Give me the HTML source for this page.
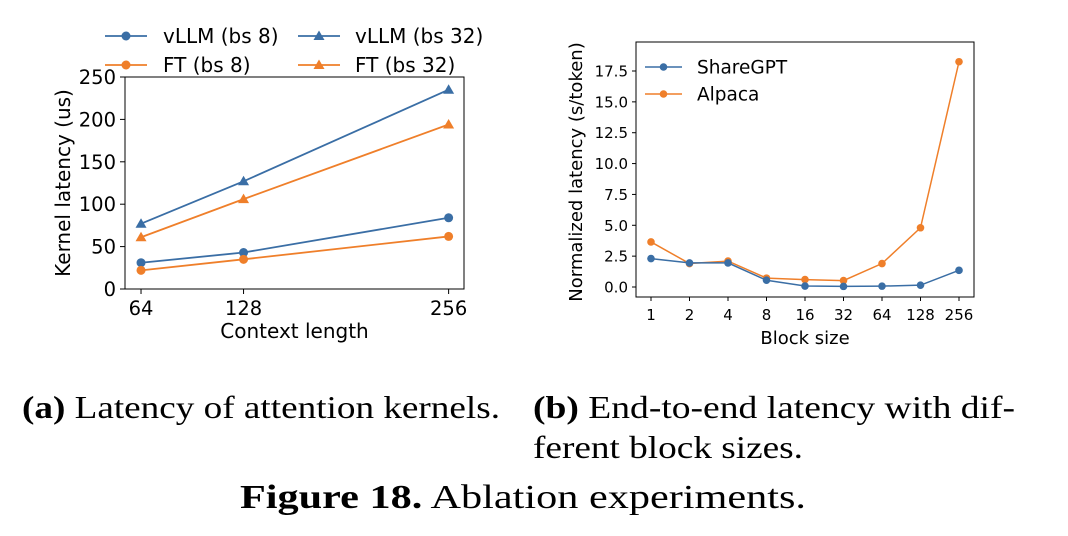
<!DOCTYPE html>
<html><head><meta charset="utf-8"><style>
html,body{margin:0;padding:0;background:#fff;}
svg{display:block;}
.s{font-family:"DejaVu Sans","Liberation Sans",sans-serif;fill:#000;}
.c{font-family:"Liberation Serif",serif;fill:#000;}
</style></head><body>
<svg id="fig" width="1068" height="536" viewBox="0 0 1068 536" xmlns="http://www.w3.org/2000/svg">
<g id="chartA"></g>
<g id="chartB"></g>
<g>
<text class="c" x="22" y="418" font-size="32" textLength="478" lengthAdjust="spacingAndGlyphs"><tspan font-weight="bold">(a)</tspan> Latency of attention kernels.</text>
<text class="c" x="533" y="418" font-size="32" textLength="482" lengthAdjust="spacingAndGlyphs"><tspan font-weight="bold">(b)</tspan> End-to-end latency with dif-</text>
<text class="c" x="533" y="458" font-size="32" textLength="270" lengthAdjust="spacingAndGlyphs">ferent block sizes.</text>
<text class="c" x="240" y="508" font-size="34" textLength="566" lengthAdjust="spacingAndGlyphs"><tspan font-weight="bold">Figure 18.</tspan> Ablation experiments.</text>
</g>
</svg>
<script>
const ctxLengths = [64, 128, 256];
const vllmBs8 = [31, 43, 84];
const ftBs8 = [22, 35, 62];
const vllmBs32 = [77, 127, 235];
const ftBs32 = [61, 106, 194];
const yTicksA = [0, 50, 100, 150, 200, 250];

const blockSizes = ["1","2","4","8","16","32","64","128","256"];
const shareGPT = [2.3, 1.95, 1.95, 0.55, 0.08, 0.05, 0.07, 0.15, 1.35];
const alpaca = [3.65, 1.9, 2.1, 0.72, 0.6, 0.52, 1.9, 4.8, 18.25];
const yTicksB = ["0.0","2.5","5.0","7.5","10.0","12.5","15.0","17.5"];

const BLUE = "#3a6ea5", ORANGE = "#ef7f2a";
const NS = "http://www.w3.org/2000/svg";
function mk(parent, tag, attrs, text) {
  const e = document.createElementNS(NS, tag);
  for (const k in attrs) e.setAttribute(k, attrs[k]);
  if (text !== undefined) e.textContent = text;
  parent.appendChild(e);
  return e;
}
function marker(g, type, x, y, color) {
  if (type === "o") return mk(g, "circle", {cx:x, cy:y, r:4.5, fill:color});
  return mk(g, "polygon", {points:`${x},${y-5.5} ${x+5.5},${y+4} ${x-5.5},${y+4}`, fill:color});
}

// ---- Chart A ----
(function(){
  const g = document.getElementById("chartA");
  const L=125, R=464, T=77, B=289;
  const xA = v => L + (v - 54) / (265.6 - 54) * (R - L);
  const yA = v => B - v / 250 * (B - T);
  let f = mk(g, "rect", {x:L, y:T, width:R-L, height:B-T, fill:"none", stroke:"#000", "stroke-width":1});
  
  
  yTicksA.forEach(t => {
    mk(g, "line", {x1:L-5, x2:L, y1:yA(t), y2:yA(t), stroke:"#000"});
    const tx = mk(g, "text", {x:L-9, y:yA(t)+7, "font-size":19.5, "text-anchor":"end", class:"s"}, t);
    
    
  });
  ctxLengths.forEach(t => {
    mk(g, "line", {x1:xA(t), x2:xA(t), y1:B, y2:B+5, stroke:"#000"});
    const tx = mk(g, "text", {x:xA(t), y:B+26, "font-size":19.5, "text-anchor":"middle", class:"s"}, t);
    
    
  });
  let xt = mk(g, "text", {x:(L+R)/2, y:338, "font-size":20, "text-anchor":"middle", class:"s"}, "Context length");
  
  
  let yt = mk(g, "text", {x:0, y:0, "font-size":20, "text-anchor":"middle", class:"s", transform:`translate(70,183) rotate(-90)`}, "Kernel latency (us)");
  
  
  const series = [[vllmBs32,BLUE,"^","vllm-bs32"],[ftBs32,ORANGE,"^","ft-bs32"],[vllmBs8,BLUE,"o","vllm-bs8"],[ftBs8,ORANGE,"o","ft-bs8"]];
  series.forEach(([d,c,m,n]) => {
    const sg = mk(g, "g", {});
    
    
    mk(sg, "polyline", {points:d.map((v,i)=>`${xA(ctxLengths[i])},${yA(v)}`).join(" "), fill:"none", stroke:c, "stroke-width":1.8});
    d.forEach((v,i)=>marker(sg, m, xA(ctxLengths[i]), yA(v), c));
  });
  const leg = [["vLLM (bs 8)",BLUE,"o",105,36,163],["vLLM (bs 32)",BLUE,"^",298,36,355],["FT (bs 8)",ORANGE,"o",105,65,163],["FT (bs 32)",ORANGE,"^",298,65,355]];
  leg.forEach(([lab,c,m,x,y,tx]) => {
    const lg = mk(g, "g", {});
    
    
    mk(lg, "line", {x1:x, x2:x+42, y1:y, y2:y, stroke:c, "stroke-width":1.8});
    marker(lg, m, x+21, y, c);
    mk(lg, "text", {x:tx, y:y+7, "font-size":20, class:"s"}, lab);
  });
})();

// ---- Chart B ----
(function(){
  const g = document.getElementById("chartB");
  const L=636, R=974, T=42, B=297;
  const xB = i => 651 + i * (959 - 651) / (blockSizes.length - 1);
  const yB = v => 287 - v * (216 / 17.5);
  let f = mk(g, "rect", {x:L, y:T, width:R-L, height:B-T, fill:"none", stroke:"#000", "stroke-width":1});
  
  
  yTicksB.forEach(t => {
    const y = yB(parseFloat(t));
    mk(g, "line", {x1:L-4, x2:L, y1:y, y2:y, stroke:"#000"});
    const tx = mk(g, "text", {x:L-8, y:y+5.5, "font-size":15, "text-anchor":"end", class:"s"}, t);
    
    
  });
  blockSizes.forEach((t,i) => {
    mk(g, "line", {x1:xB(i), x2:xB(i), y1:B, y2:B+4, stroke:"#000"});
    const tx = mk(g, "text", {x:xB(i), y:B+23, "font-size":15, "text-anchor":"middle", class:"s"}, t);
    
    
  });
  let xt = mk(g, "text", {x:805, y:344, "font-size":18, "text-anchor":"middle", class:"s"}, "Block size");
  
  
  let yt = mk(g, "text", {x:0, y:0, "font-size":18, "text-anchor":"middle", class:"s", transform:`translate(582,172) rotate(-90)`}, "Normalized latency (s/token)");
  
  
  [[alpaca,ORANGE,"alpaca"],[shareGPT,BLUE,"sharegpt"]].forEach(([d,c,n]) => {
    const sg = mk(g, "g", {});
    
    
    mk(sg, "polyline", {points:d.map((v,i)=>`${xB(i)},${yB(v)}`).join(" "), fill:"none", stroke:c, "stroke-width":1.5});
    d.forEach((v,i)=>mk(sg, "circle", {cx:xB(i), cy:yB(v), r:3.8, fill:c}));
  });
  [["ShareGPT",BLUE,67],["Alpaca",ORANGE,94]].forEach(([lab,c,y]) => {
    const lg = mk(g, "g", {});
    
    
    mk(lg, "line", {x1:645, x2:682, y1:y, y2:y, stroke:c, "stroke-width":1.5});
    mk(lg, "circle", {cx:663.5, cy:y, r:3.8, fill:c});
    mk(lg, "text", {x:697, y:y+6.5, "font-size":18.5, class:"s"}, lab);
  });
})();
</script>
</body></html>
